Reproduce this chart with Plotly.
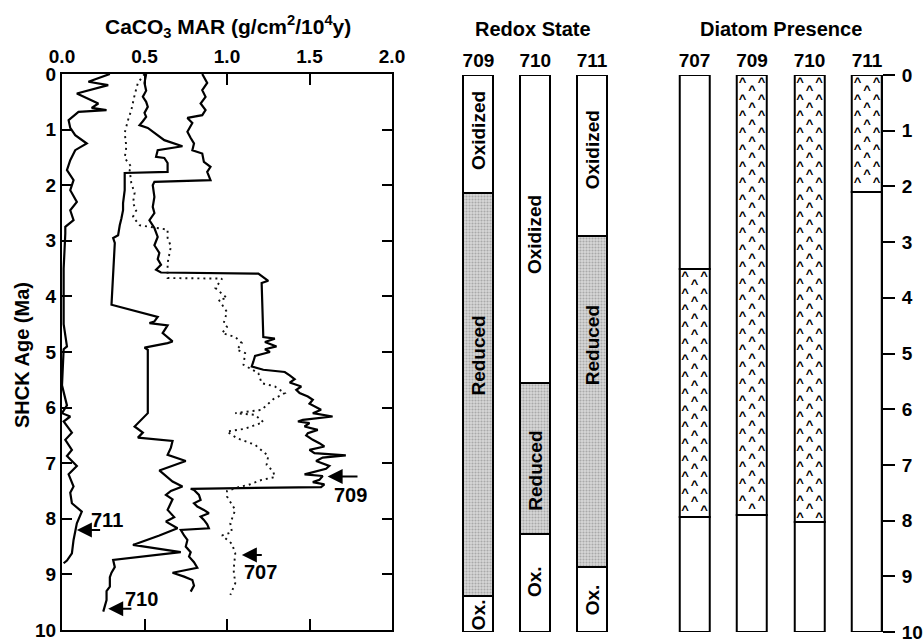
import plotly.graph_objects as go

# ---------------- CaCO3 MAR profiles (age Ma, value g/cm2/1e4y) ----------------
age_709 = [0.0, 0.16, 0.29, 0.41, 0.53, 0.65, 0.74, 0.79, 0.88, 1.04, 1.15, 1.25, 1.37, 1.43, 1.58, 1.67, 1.76,
           1.91, 1.94, 2.0, 2.21, 2.39, 2.5, 2.63, 2.77, 2.93, 3.08, 3.22, 3.33, 3.43, 3.52, 3.57, 3.59, 3.72,
           3.76, 4.73, 4.76, 4.82, 4.9, 4.95, 5.0, 5.07, 5.17, 5.26, 5.32, 5.36, 5.42, 5.49, 5.55, 5.62, 5.68,
           5.74, 5.8, 5.86, 5.93, 6.0, 6.04, 6.1, 6.16, 6.22, 6.25, 6.28, 6.34, 6.4, 6.46, 6.5, 6.58, 6.64,
           6.7, 6.76, 6.82, 6.86, 6.9, 6.96, 7.0, 7.05, 7.1, 7.16, 7.2, 7.23, 7.3, 7.34, 7.38, 7.43, 7.46,
           7.48, 7.57, 7.66, 7.72, 7.78, 7.84, 7.9, 7.96, 8.02, 8.1, 8.17, 8.2, 8.3, 8.38, 8.5, 8.6, 8.68,
           8.78, 8.88, 8.97, 9.04, 9.1, 9.2, 9.31]
mar_709 = [0.85, 0.88, 0.85, 0.87, 0.84, 0.87, 0.85, 0.76, 0.79, 0.76, 0.78, 0.80, 0.79, 0.85, 0.86, 0.90, 0.88,
           0.90, 0.56, 0.55, 0.56, 0.55, 0.56, 0.53, 0.56, 0.58, 0.56, 0.59, 0.58, 0.60, 0.57, 0.60, 1.19, 1.25,
           1.21, 1.22, 1.29, 1.23, 1.30, 1.23, 1.26, 1.17, 1.16, 1.15, 1.22, 1.35, 1.38, 1.41, 1.38, 1.45, 1.42,
           1.44, 1.49, 1.52, 1.50, 1.55, 1.57, 1.52, 1.64, 1.46, 1.43, 1.50, 1.47, 1.55, 1.49, 1.48, 1.52, 1.56,
           1.59, 1.50, 1.53, 1.72, 1.58, 1.54, 1.58, 1.62, 1.60, 1.52, 1.47, 1.58, 1.56, 1.52, 1.59, 1.57, 0.78,
           0.80, 0.83, 0.84, 0.80, 0.82, 0.86, 0.89, 0.84, 0.86, 0.88, 0.89, 0.72, 0.74, 0.76, 0.75, 0.78, 0.77,
           0.80, 0.82, 0.67, 0.74, 0.79, 0.80, 0.78]

age_710 = [0.0, 0.16, 0.3, 0.41, 0.5, 0.59, 0.7, 0.77, 0.85, 0.92, 0.97, 1.06, 1.19, 1.3, 1.37, 1.49, 1.51, 1.6,
           1.76, 1.78, 1.91, 2.09, 2.32, 2.45, 2.6, 2.72, 2.9, 2.95, 3.04, 4.15, 4.37, 4.45, 4.48, 4.52, 4.66,
           4.81, 4.84, 4.92, 4.96, 6.1, 6.34, 6.45, 6.54, 6.6, 6.72, 6.85, 6.96, 7.13, 7.33, 7.42, 7.5, 7.57,
           7.65, 7.72, 7.84, 7.97, 8.05, 8.17, 8.3, 8.47, 8.6, 8.74, 8.87, 8.97, 9.05, 9.22, 9.3, 9.46, 9.58,
           9.67]
mar_710 = [0.51, 0.50, 0.51, 0.49, 0.51, 0.52, 0.50, 0.51, 0.49, 0.47, 0.52, 0.56, 0.62, 0.73, 0.58, 0.57, 0.62,
           0.64, 0.64, 0.38, 0.38, 0.38, 0.37, 0.37, 0.36, 0.35, 0.34, 0.31, 0.32, 0.30, 0.58, 0.56, 0.53, 0.64,
           0.61, 0.67, 0.64, 0.50, 0.52, 0.52, 0.44, 0.49, 0.46, 0.67, 0.66, 0.64, 0.75, 0.59, 0.67, 0.73, 0.66,
           0.63, 0.67, 0.66, 0.64, 0.68, 0.63, 0.70, 0.59, 0.43, 0.72, 0.31, 0.32, 0.30, 0.29, 0.29, 0.27, 0.27,
           0.26, 0.25]

age_711 = [0.0, 0.14, 0.2, 0.35, 0.53, 0.61, 0.65, 0.68, 0.83, 0.97, 1.1, 1.25, 1.37, 1.55, 1.73, 1.91, 2.09,
           2.3, 2.45, 2.63, 2.75, 2.87, 3.5, 4.5, 4.9, 4.95, 5.6, 5.96, 6.1, 6.16, 6.25, 6.45, 6.58, 6.76,
           6.87, 7.05, 7.2, 7.42, 7.53, 7.72, 7.87, 7.95, 8.08, 8.38, 8.62, 8.75, 8.8]
mar_711 = [0.29, 0.16, 0.28, 0.09, 0.22, 0.18, 0.27, 0.10, 0.04, 0.05, 0.08, 0.15, 0.08, 0.05, 0.03, 0.07, 0.05,
           0.09, 0.05, 0.07, 0.02, 0.02, 0.01, 0.01, 0.03, 0.01, 0.0, 0.03, 0.0, 0.05, 0.01, 0.06, 0.02, 0.06,
           0.03, 0.09, 0.04, 0.07, 0.05, 0.06, 0.12, 0.11, 0.09, 0.07, 0.06, 0.03, 0.01]

age_707 = [0.0, 0.16, 0.38, 0.65, 0.83, 1.06, 1.31, 1.51, 1.67, 1.73, 1.96, 2.14, 2.32, 2.45, 2.57, 2.72, 2.8,
           2.95, 3.1, 3.26, 3.4, 3.5, 3.67, 3.68, 3.85, 4.03, 4.06, 4.28, 4.48, 4.55, 4.66, 4.73, 4.84, 4.96,
           5.02, 5.23, 5.38, 5.56, 5.62, 5.74, 5.85, 6.04, 6.1, 6.13, 6.26, 6.38, 6.43, 6.55, 6.67, 6.87, 7.03,
           7.15, 7.25, 7.3, 7.39, 7.43, 7.5, 7.6, 7.84, 8.08, 8.24, 8.3, 8.45, 8.62, 8.92, 9.16, 9.37]
mar_707 = [0.50, 0.46, 0.44, 0.42, 0.40, 0.38, 0.39, 0.38, 0.42, 0.41, 0.42, 0.44, 0.43, 0.45, 0.43, 0.47, 0.64,
           0.64, 0.66, 0.65, 0.64, 0.64, 0.64, 0.97, 0.93, 1.00, 0.95, 1.00, 0.98, 1.00, 0.97, 1.05, 1.09, 1.06,
           1.11, 1.10, 1.19, 1.21, 1.29, 1.35, 1.28, 1.21, 1.05, 1.17, 1.22, 1.11, 1.00, 1.06, 1.17, 1.25, 1.24,
           1.28, 1.29, 1.21, 1.13, 1.07, 1.00, 1.00, 1.05, 1.02, 1.03, 0.97, 1.03, 1.05, 1.04, 1.05, 1.02]

# site label arrows: (tip value, tip age, tail value, label value, label age)
arrow_sites = ["709", "707", "711", "710"]
arrow_tip_x = [1.61, 1.09, 0.09, 0.28]
arrow_tip_y = [7.24, 8.65, 8.20, 9.62]
arrow_tail_x = [1.80, 1.22, 0.24, 0.43]
label_x = [1.75, 1.20, 0.27, 0.48]
label_y = [7.57, 8.95, 8.02, 9.44]

# ---------------- Redox state columns ----------------
redox_sites = ["709", "710", "711"]
redox_seg_site = [0, 0, 0, 1, 1, 1, 2, 2, 2]
redox_seg_start = [0.0, 2.12, 9.35, 0.0, 5.53, 8.24, 0.0, 2.89, 8.83]
redox_seg_end = [2.12, 9.35, 10.0, 5.53, 8.24, 10.0, 2.89, 8.83, 10.0]
redox_seg_state = ["Oxidized", "Reduced", "Ox.", "Oxidized", "Reduced", "Ox.", "Oxidized", "Reduced", "Ox."]
redox_label_age = [1.0, 5.03, 9.69, 2.87, 7.1, 9.1, 1.35, 4.85, 9.43]

# ---------------- Diatom presence columns ----------------
diatom_sites = ["707", "709", "710", "711"]
diatom_seg_site = [0, 0, 0, 1, 1, 2, 2, 3, 3]
diatom_seg_start = [0.0, 3.48, 7.94, 0.0, 7.90, 0.0, 8.03, 0.0, 2.10]
diatom_seg_end = [3.48, 7.94, 10.0, 7.90, 10.0, 8.03, 10.0, 2.10, 10.0]
diatom_seg_present = [False, True, False, True, False, True, False, True, False]

age_ticks = list(range(0, 11))
mar_ticks = [0.0, 0.5, 1.0, 1.5, 2.0]

W, H = 923, 643
def px(x):
    return x / W
def py(y):
    return 1 - y / H

FONT = "Liberation Sans, Arial, Helvetica, sans-serif"
fig = go.Figure()

# main profiles
for a, v in [(age_709, mar_709), (age_710, mar_710), (age_711, mar_711)]:
    fig.add_trace(go.Scatter(x=v, y=a, mode="lines", line=dict(color="black", width=2.2),
                             xaxis="x", yaxis="y", showlegend=False, hoverinfo="skip"))
fig.add_trace(go.Scatter(x=mar_707, y=age_707, mode="lines",
                         line=dict(color="#111111", width=1.9, dash="2px,4px"),
                         xaxis="x", yaxis="y", showlegend=False, hoverinfo="skip"))

annotations = []
for i, s in enumerate(arrow_sites):
    annotations.append(dict(x=arrow_tip_x[i], y=arrow_tip_y[i], ax=arrow_tail_x[i], ay=arrow_tip_y[i],
                            xref="x", yref="y", axref="x", ayref="y", text="", showarrow=True,
                            arrowhead=2, arrowsize=1.5, arrowwidth=2, arrowcolor="black"))
    annotations.append(dict(x=label_x[i], y=label_y[i], xref="x", yref="y", text=s, showarrow=False,
                            xanchor="center", yanchor="middle", font=dict(size=20)))

# redox bars
ox_x, ox_b, ox_y, rd_x, rd_b, rd_y = [], [], [], [], [], []
for i in range(len(redox_seg_site)):
    if redox_seg_state[i] == "Reduced":
        rd_x.append(redox_seg_site[i]); rd_b.append(redox_seg_start[i]); rd_y.append(redox_seg_end[i] - redox_seg_start[i])
    else:
        ox_x.append(redox_seg_site[i]); ox_b.append(redox_seg_start[i]); ox_y.append(redox_seg_end[i] - redox_seg_start[i])
    annotations.append(dict(x=redox_seg_site[i], y=redox_label_age[i], xref="x2", yref="y2",
                            xanchor="center", yanchor="middle",
                            text=redox_seg_state[i], textangle=-90, showarrow=False, font=dict(size=19)))
fig.add_trace(go.Bar(x=ox_x, y=ox_y, base=ox_b, width=0.53, xaxis="x2", yaxis="y2",
                     marker=dict(color="white", line=dict(color="black", width=2)),
                     showlegend=False, hoverinfo="skip"))
fig.add_trace(go.Bar(x=rd_x, y=rd_y, base=rd_b, width=0.53, xaxis="x2", yaxis="y2",
                     marker=dict(color="#c8c8c8", line=dict(color="black", width=2),
                                 pattern=dict(shape=".", fgcolor="#7a7a7a", bgcolor="#d8d8d8", size=3, solidity=0.4)),
                     showlegend=False, hoverinfo="skip"))

# diatom bars
fig.add_trace(go.Bar(x=diatom_seg_site, y=[e - s for s, e in zip(diatom_seg_start, diatom_seg_end)],
                     base=diatom_seg_start, width=0.52, xaxis="x3", yaxis="y3",
                     marker=dict(color="white", line=dict(color="black", width=2)),
                     showlegend=False, hoverinfo="skip"))
cx, cy = [], []
step = 0.15
for i in range(len(diatom_seg_site)):
    if not diatom_seg_present[i]:
        continue
    a = diatom_seg_start[i] + 0.14
    k = 0
    while a < diatom_seg_end[i] - 0.02:
        offs = [-0.165, 0.165] if k % 2 == 0 else [0.0]
        for o in offs:
            cx.append(diatom_seg_site[i] + o); cy.append(a)
        a += step
        k += 1
fig.add_trace(go.Scatter(x=cx, y=cy, mode="text", text=["^"] * len(cx), xaxis="x3", yaxis="y3",
                         textfont=dict(size=13, color="black", family=FONT, weight="bold"),
                         showlegend=False, hoverinfo="skip"))

# headings
annotations += [
    dict(x=px(228), y=py(27), xref="paper", yref="paper", showarrow=False, font=dict(size=21),
         xanchor="center", yanchor="middle",
         text="CaCO<sub>3</sub> MAR (g/cm<sup>2</sup>/10<sup>4</sup>y)"),
    dict(x=px(22), y=py(355), xref="paper", yref="paper", showarrow=False, font=dict(size=20),
         xanchor="center", yanchor="middle", text="SHCK Age (Ma)", textangle=-90),
    dict(x=px(533), y=py(29), xref="paper", yref="paper", showarrow=False, font=dict(size=20),
         xanchor="center", yanchor="middle", text="Redox State"),
    dict(x=px(781), y=py(29), xref="paper", yref="paper", showarrow=False, font=dict(size=20),
         xanchor="center", yanchor="middle", text="Diatom Presence"),
]

fig.update_layout(
    width=W, height=H, margin=dict(l=0, r=0, t=0, b=0, pad=0, autoexpand=False),
    paper_bgcolor="white", plot_bgcolor="rgba(0,0,0,0)",
    font=dict(family=FONT, size=20, color="black", weight="bold"),
    barmode="overlay", bargap=0,
    xaxis=dict(domain=[px(62), px(392)], range=[0, 2], side="top", anchor="y", automargin=False,
               tickvals=mar_ticks, ticktext=["%.1f" % t for t in mar_ticks],
               ticks="inside", ticklen=11, tickwidth=2, tickcolor="black",
               showline=True, linewidth=2, linecolor="black", mirror="ticks",
               showgrid=False, zeroline=False, ticklabelstandoff=1, tickfont=dict(size=19)),
    yaxis=dict(domain=[py(630), py(74)], range=[10, 0], anchor="x", automargin=False,
               tickvals=age_ticks, ticks="inside", ticklen=10, tickwidth=2, tickcolor="black",
               showline=True, linewidth=2, linecolor="black", mirror="ticks",
               showgrid=False, zeroline=False, ticklabelstandoff=0, tickfont=dict(size=19)),
    xaxis2=dict(domain=[px(450), px(620.5)], range=[-0.5, 2.5], side="top", anchor="y2", automargin=False,
                tickvals=[0, 1, 2], ticktext=redox_sites, ticks="", showline=False,
                showgrid=False, zeroline=False, tickfont=dict(size=19), ticklabelstandoff=3),
    yaxis2=dict(domain=[py(632), py(75)], range=[10, 0], anchor="x2", visible=False, automargin=False),
    xaxis3=dict(domain=[px(665.75), px(895.75)], range=[-0.5, 3.5], side="top", anchor="y3", automargin=False,
                tickvals=[0, 1, 2, 3], ticktext=diatom_sites, ticks="", showline=False,
                showgrid=False, zeroline=False, tickfont=dict(size=19), ticklabelstandoff=3),
    yaxis3=dict(domain=[py(632), py(75)], range=[10, 0], anchor="free", position=px(882), side="right",
                automargin=False,
                tickvals=age_ticks, ticks="outside", ticklen=12, tickwidth=2, tickcolor="black",
                showline=True, linewidth=2, linecolor="black", showgrid=False, zeroline=False,
                ticklabelstandoff=3, tickfont=dict(size=19)),
    annotations=annotations,
)

fig.write_html("out.html")
